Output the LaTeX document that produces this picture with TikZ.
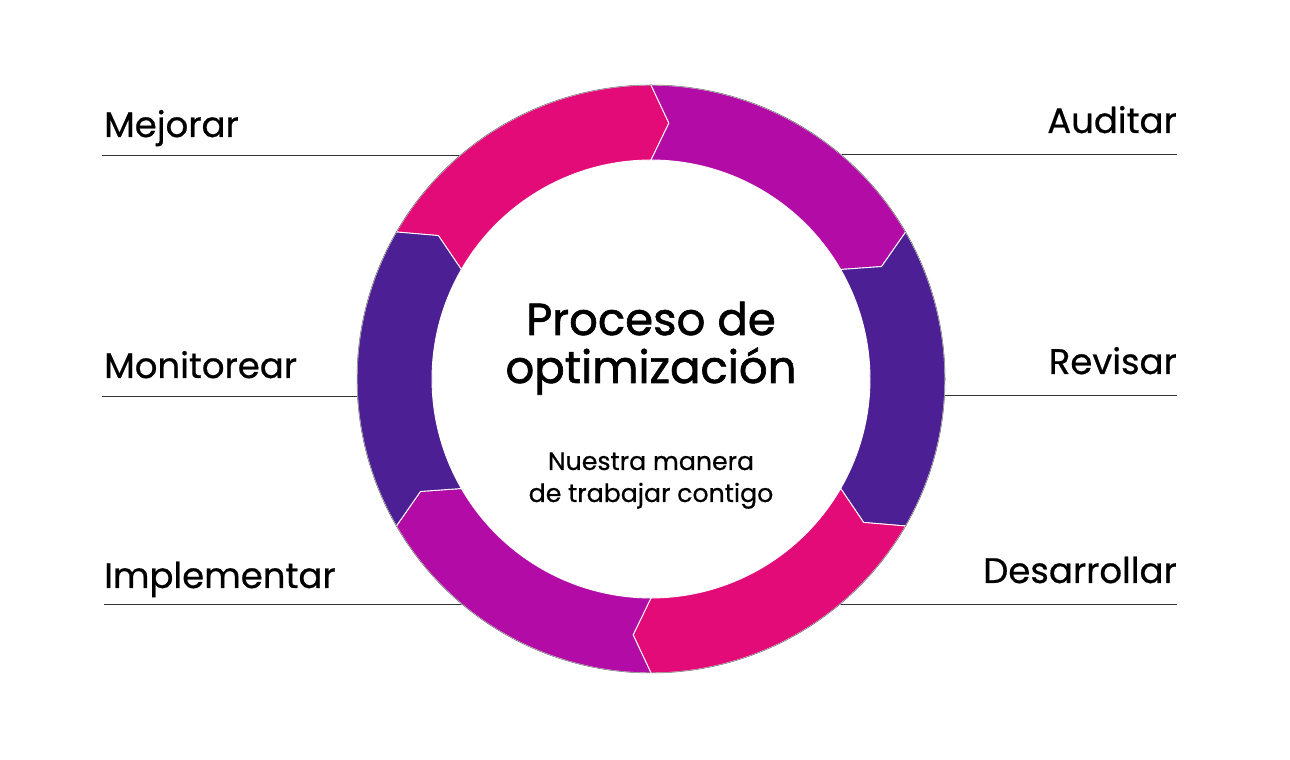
\documentclass[tikz,border=0pt]{standalone}
\usepackage{fontspec}
\setmainfont{Poppins}
\newfontfamily\lblfont{Poppins}[FakeBold=0.6]
\newfontfamily\ttlfont{Poppins}[FakeBold=1.4]
\usepackage{tikz}
\usetikzlibrary{positioning}
\definecolor{ringpink}{HTML}{E30B78}
\definecolor{ringmag}{HTML}{B30CA6}
\definecolor{ringpur}{HTML}{4C1F94}

\begin{document}
\begin{tikzpicture}[x=1pt,y=1pt]
    \tikzstyle{lbl}=[inner sep=0pt,font=\fontsize{35.5}{40}\lblfont]
    \tikzstyle{ttl}=[inner sep=0pt,anchor=base,font=\fontsize{45}{50}\ttlfont]
    \tikzstyle{subttl}=[inner sep=0pt,anchor=base,font=\fontsize{25.2}{30}\lblfont]
    \tikzstyle{stepline}=[draw=black!80,line width=0.8pt]
    \tikzstyle{seg}=[draw=white,line width=0.9pt]

    \useasboundingbox (0,0) rectangle (1290,760);

    % lines under the steps
    \coordinate (mej-a) at (102,605);  \coordinate (mej-b) at (462,605);
    \coordinate (mon-a) at (102,364);  \coordinate (mon-b) at (357,364);
    \coordinate (imp-a) at (104,156);  \coordinate (imp-b) at (462,156);
    \coordinate (aud-a) at (840,606);  \coordinate (aud-b) at (1177,606);
    \coordinate (rev-a) at (945,365);  \coordinate (rev-b) at (1177,365);
    \coordinate (des-a) at (840,156);  \coordinate (des-b) at (1177,156);
    \draw[stepline] (mej-a) -- (mej-b);
    \draw[stepline] (mon-a) -- (mon-b);
    \draw[stepline] (imp-a) -- (imp-b);
    \draw[stepline] (aud-a) -- (aud-b);
    \draw[stepline] (rev-a) -- (rev-b);
    \draw[stepline] (des-a) -- (des-b);

    \node[lbl,anchor=base west] (mej) at (104,623) {Mejorar};
    \node[lbl,anchor=base west] (mon) at (104,382) {Monitorear};
    \node[lbl,anchor=base west] (imp) at (104,172) {Implementar};
    \node[lbl,anchor=base east] (aud) at (1177,627) {Auditar};
    \node[lbl,anchor=base east] (rev) at (1177,386) {Revisar};
    \node[lbl,anchor=base east] (des) at (1177,177) {Desarrollar};

    % ring of arrows
    \begin{scope}[shift={(651,381)}]
        \foreach \s/\col in {150/ringpink,90/ringmag,30/ringpur,-30/ringpink,-90/ringmag,210/ringpur}{
            \pgfmathsetmacro\e{\s-60}
            \filldraw[seg,fill=\col] (\s:294) arc[start angle=\s,end angle=\e,radius=294]
                -- ({\e-4}:256.5) -- (\e:219) arc[start angle=\e,end angle=\s,radius=219]
                -- ({\s-4}:256.5) -- cycle;
        }
        \draw[black!60,line width=0.5pt] (0,0) circle[radius=294];
    \end{scope}

    \node[ttl] (ttl1) at (651,425) {Proceso de};
    \node[ttl] (ttl2) at (651,377) {optimización};
    \node[subttl] (sub1) at (651,290) {Nuestra manera};
    \node[subttl] (sub2) at (651,258) {de trabajar contigo};
\end{tikzpicture}
\end{document}
